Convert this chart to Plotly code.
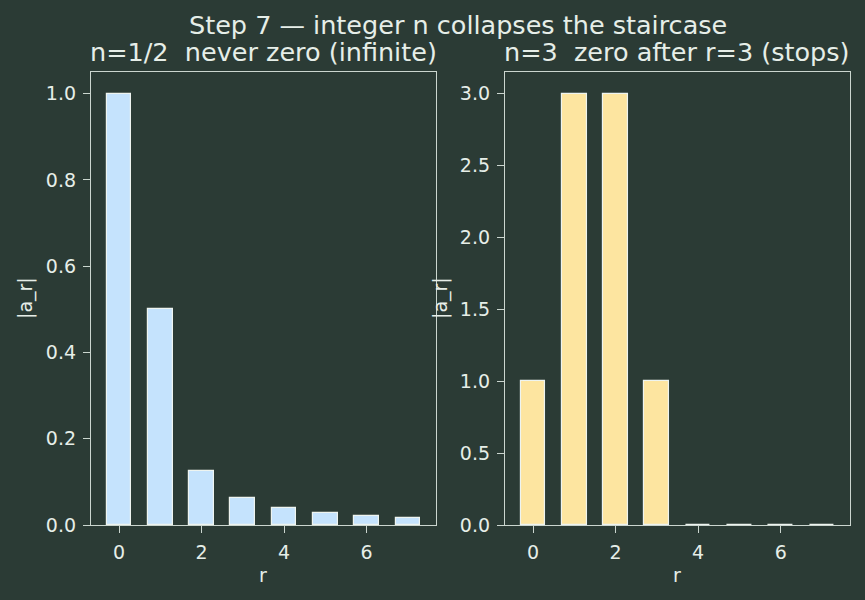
import plotly.graph_objects as go
from plotly.subplots import make_subplots

r_vals = [0, 1, 2, 3, 4, 5, 6, 7]
a_half = [1.0, 0.5, 0.125, 0.0625, 0.0390625, 0.02734375, 0.0205078, 0.0161133]
a_three = [1, 3, 3, 1, 0, 0, 0, 0]
x_ticks = [0, 2, 4, 6]
y_ticks_left = [0.0, 0.2, 0.4, 0.6, 0.8, 1.0]
y_ticks_right = [0.0, 0.5, 1.0, 1.5, 2.0, 2.5, 3.0]

BG = "#2b3b35"
FG = "#e6eee8"
SPINE = "#cbd6cf"
FONT = "DejaVu Sans"

fig = make_subplots(rows=1, cols=2, horizontal_spacing=0.091)
fig.add_trace(go.Bar(x=r_vals, y=a_half, width=0.6,
                     marker=dict(color="#c5e3fd", line=dict(color="#eef4f0", width=1.2))), 1, 1)
fig.add_trace(go.Bar(x=r_vals, y=a_three, width=0.6,
                     marker=dict(color="#fde5a0", line=dict(color="#eef4f0", width=1.2))), 1, 2)

axis_common = dict(showgrid=False, zeroline=False, showline=True, mirror=True,
                   linecolor=SPINE, linewidth=1.3, ticks="outside", ticklen=7,
                   tickwidth=1.3, tickcolor=SPINE, ticklabelstandoff=3,
                   tickfont=dict(family=FONT, size=19, color=FG))

fig.update_xaxes(range=[-0.68, 7.68], tickvals=x_ticks, ticktext=[str(v) for v in x_ticks], **axis_common)
fig.update_yaxes(range=[0, 1.05], tickvals=y_ticks_left, ticktext=[f"{v:.1f}" for v in y_ticks_left],
                 row=1, col=1, **axis_common)
fig.update_yaxes(range=[0, 3.15], tickvals=y_ticks_right, ticktext=[f"{v:.1f}" for v in y_ticks_right],
                 row=1, col=2, **axis_common)
fig.update_layout(xaxis=dict(domain=[0, 0.4545]), xaxis2=dict(domain=[0.5455, 1.0]))

ann = [
    dict(text="Step 7 — integer n collapses the staircase", x=458, y=25, size=25.5),
    dict(text="n=1/2  never zero (infinite)", x=263, y=52, size=25.5),
    dict(text="n=3  zero after r=3 (stops)", x=677, y=52, size=25.5),
    dict(text="r", x=263, y=575, size=19),
    dict(text="r", x=677, y=575, size=19),
]
annotations = []
for a in ann:
    annotations.append(dict(text=a["text"], xref="paper", yref="paper",
                            x=(a["x"] - 91) / 759, y=(525 - a["y"]) / 453,
                            xanchor="center", yanchor="middle", showarrow=False,
                            font=dict(family=FONT, size=a["size"], color=FG)))
for xpix in (25, 440):
    annotations.append(dict(text="|a_r|", xref="paper", yref="paper",
                            x=(xpix - 91) / 759, y=(525 - 298) / 453, textangle=-90,
                            xanchor="center", yanchor="middle", showarrow=False,
                            font=dict(family=FONT, size=19, color=FG)))

fig.update_layout(width=865, height=600, paper_bgcolor=BG, plot_bgcolor=BG,
                  margin=dict(l=91, r=15, t=72, b=75), showlegend=False,
                  bargap=0, annotations=annotations,
                  font=dict(family=FONT, color=FG))
fig.write_html("out.html")
